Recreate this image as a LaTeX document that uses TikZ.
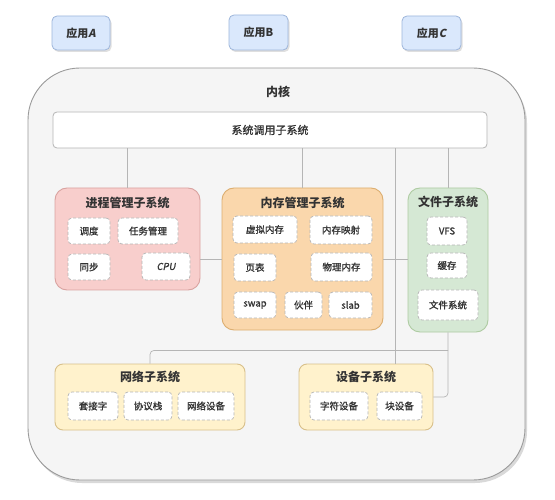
\documentclass[tikz,border=0pt]{standalone}
\usepackage{fontspec}
\setmainfont{Noto Sans CJK SC}
\newfontfamily\slfont[FakeSlant=0.2]{Noto Sans CJK SC}
\newfontfamily\medfont[FakeBold=1.2]{Noto Sans CJK SC}
\newfontfamily\slmedfont[FakeSlant=0.2, FakeBold=1.2]{Noto Sans CJK SC}
\usetikzlibrary{shadows,calc}
\definecolor{txt}{HTML}{333333}
\definecolor{appfill}{HTML}{DAE8FC}
\definecolor{appline}{HTML}{9DB5DA}
\definecolor{kfill}{HTML}{F5F5F5}
\definecolor{kline}{HTML}{9A9A9A}
\definecolor{link}{HTML}{B5B5B5}
\definecolor{procfill}{HTML}{F8CECC}
\definecolor{procline}{HTML}{D9A3A0}
\definecolor{memfill}{HTML}{FAD7AC}
\definecolor{memline}{HTML}{DCAE70}
\definecolor{filefill}{HTML}{D5E8D4}
\definecolor{fileline}{HTML}{AECBA2}
\definecolor{iofill}{HTML}{FFF2CC}
\definecolor{ioline}{HTML}{D8C08A}
\tikzset{
  box/.style={rectangle, inner sep=0pt, text=txt},
  app/.style={box, rounded corners=5pt, fill=appfill, draw=appline, line width=0.8pt,
    drop shadow={opacity=0.25, shadow xshift=1.5pt, shadow yshift=-2pt},
    font=\fontsize{11pt}{13pt}\selectfont\bfseries},
  sub/.style={box, rounded corners=12pt, line width=0.9pt},
  item/.style={box, rounded corners=4pt, fill=white, draw=link, densely dashed, line width=0.7pt,
    font=\fontsize{9.5pt}{11pt}\medfont},
  title/.style={box, font=\fontsize{12pt}{14pt}\selectfont\bfseries},
  link/.style={draw=link, line width=0.7pt}
}
\begin{document}
\begin{tikzpicture}[x=1pt, y=-1pt]
\useasboundingbox (0,0) rectangle (555,500);
% applications
\node[app, minimum width=58pt, minimum height=34pt] (appA) at (81,33) {应用{\slfont A}};
\node[app, minimum width=59pt, minimum height=35pt] (appB) at (258.5,32.5) {应用B};
\node[app, minimum width=59pt, minimum height=34pt] (appC) at (431.5,33) {应用{\slfont C}};
% kernel
\node[box, rounded corners=52pt, fill=kfill, draw=kline, line width=0.9pt,
  drop shadow={opacity=0.3, shadow xshift=2pt, shadow yshift=-3pt},
  minimum width=497pt, minimum height=412pt] (kernel) at (276.5,274) {};
\node[title] (ktitle) at (278,92) {内核};
\node[box, rounded corners=4pt, fill=white, draw=link, line width=0.8pt,
  minimum width=434pt, minimum height=36pt, font=\fontsize{11pt}{13pt}\medfont] (sys) at (270,130) {系统调用子系统};
% process
\node[sub, fill=procfill, draw=procline, minimum width=145pt, minimum height=102pt] (proc) at (127.5,239) {};
\node[title] (proct) at (127.5,203) {进程管理子系统};
\node[item, minimum width=42pt, minimum height=26pt] (sched) at (89,231) {调度};
\node[item, minimum width=60pt, minimum height=26pt] (task) at (148,231) {任务管理};
\node[item, minimum width=42pt, minimum height=26pt] (sync) at (89,267) {同步};
\node[item, minimum width=48pt, minimum height=27pt] (cpu) at (166,266.5) {\slmedfont CPU};
% memory
\node[sub, fill=memfill, draw=memline, minimum width=161pt, minimum height=142pt] (mem) at (302.5,259) {};
\node[title] (memt) at (302.5,203) {内存管理子系统};
\node[item, minimum width=64pt, minimum height=27pt] (vmem) at (265,229.5) {虚拟内存};
\node[item, minimum width=62pt, minimum height=28pt] (mmap) at (341,230) {内存映射};
\node[item, minimum width=42pt, minimum height=27pt] (ptab) at (255,267.5) {页表};
\node[item, minimum width=61pt, minimum height=28pt] (pmem) at (341.5,267) {物理内存};
\node[item, minimum width=42pt, minimum height=26pt] (swap) at (255,305) {swap};
\node[item, minimum width=37pt, minimum height=26pt] (buddy) at (303.5,305) {伙伴};
\node[item, minimum width=43pt, minimum height=26pt] (slab) at (350.5,305) {slab};
% file
\node[sub, fill=filefill, draw=fileline, minimum width=80pt, minimum height=144pt] (file) at (448,260) {};
\node[title] (filet) at (448,202) {文件子系统};
\node[item, minimum width=40pt, minimum height=28pt] (vfs) at (447,231) {VFS};
\node[item, minimum width=40pt, minimum height=25pt] (cache) at (447,265.5) {缓存};
\node[item, minimum width=60pt, minimum height=30pt] (fs) at (448,305) {文件系统};
% network
\node[sub, rounded corners=8pt, fill=iofill, draw=ioline, minimum width=190pt, minimum height=66pt] (net) at (150,397) {};
\node[title] (nett) at (150,377) {网络子系统};
\node[item, minimum width=50pt, minimum height=28pt] (sock) at (93,406) {套接字};
\node[item, minimum width=48pt, minimum height=28pt] (stack) at (148,406) {协议栈};
\node[item, minimum width=56pt, minimum height=28pt] (ndev) at (206,406) {网络设备};
% devices
\node[sub, rounded corners=8pt, fill=iofill, draw=ioline, minimum width=134pt, minimum height=66pt] (dev) at (366,397) {};
\node[title] (devt) at (366,377) {设备子系统};
\node[item, minimum width=58pt, minimum height=28pt] (cdev) at (339,406) {字符设备};
\node[item, minimum width=45pt, minimum height=28pt] (bdev) at (399.5,406) {块设备};
% connectors
\coordinate (gap) at ($(mem.east)!0.5!(file.west)$);
\coordinate (bus) at ($(file.south)+(0,18)$);
\draw[link] (sys.south -| proc.north) -- (proc.north);
\draw[link] (sys.south -| mem.north) -- (mem.north);
\draw[link] (sys.south -| file.north) -- (file.north);
\draw[link] (sys.south -| gap) -- (dev.north -| gap);
\draw[link] (mem.west) -- (mem.west -| proc.east);
\draw[link] (mem.east) -- (mem.east -| file.west);
\draw[link, rounded corners=4pt] (file.south) |- (dev.east);
\draw[link, rounded corners=4pt] (bus) -| (net.north);
\end{tikzpicture}
\end{document}
